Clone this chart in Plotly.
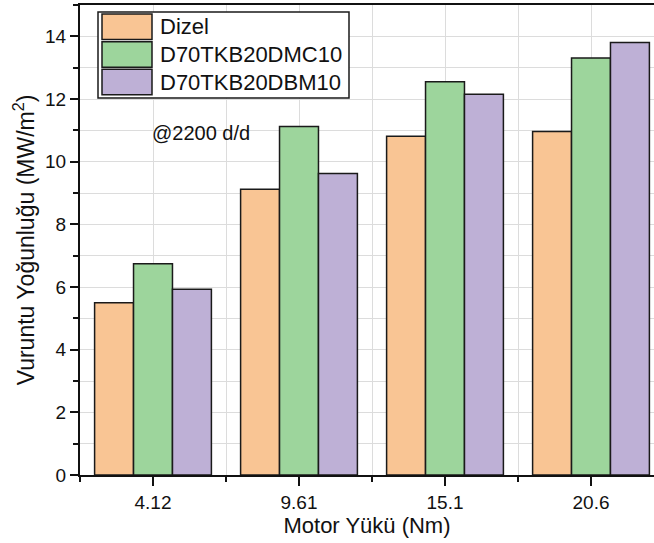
import plotly.graph_objects as go

# Engine load categories (Nm) and knock intensity per fuel (MW/m^2)
loads = ["4.12", "9.61", "15.1", "20.6"]
fuel_names = ["Dizel", "D70TKB20DMC10", "D70TKB20DBM10"]
dizel = [5.50, 9.12, 10.81, 10.96]
dmc10 = [6.74, 11.12, 12.55, 13.31]
dbm10 = [5.93, 9.62, 12.15, 13.80]

series = [dizel, dmc10, dbm10]
colors = ["#F9C594", "#9DD59C", "#BEB0D6"]
FONT = "Liberation Sans, Arial, sans-serif"

W, H = 654, 543
L, R, T, B = 80, 0, 5, 68
PW, PH = W - L - R, H - T - B

x_pos = list(range(len(loads)))

fig = go.Figure()
for name, vals, col in zip(fuel_names, series, colors):
    fig.add_trace(go.Bar(
        x=x_pos, y=vals, name=name, showlegend=False,
        marker=dict(color=col, line=dict(color="#1a1a1a", width=1.5)),
    ))


def px_x(px):
    return (px - L) / PW


def px_y(py):
    return (H - B - py) / PH


# Hand-built legend box with wide swatches
shapes = [dict(type="rect", xref="paper", yref="paper",
               x0=px_x(98), x1=px_x(349), y0=px_y(98), y1=px_y(12),
               fillcolor="white", line=dict(color="#1a1a1a", width=1.5))]
annotations = []
row_top = [14, 41.7, 69.3]
for i, (name, col) in enumerate(zip(fuel_names, colors)):
    top = row_top[i]
    shapes.append(dict(type="rect", xref="paper", yref="paper",
                       x0=px_x(102), x1=px_x(152), y0=px_y(top + 25.5), y1=px_y(top),
                       fillcolor=col, line=dict(color="#1a1a1a", width=1.5)))
    annotations.append(dict(xref="paper", yref="paper", x=px_x(158), y=px_y(top + 13),
                            xanchor="left", yanchor="middle", showarrow=False,
                            text=name, font=dict(family=FONT, size=22, color="#111")))

annotations.append(dict(xref="paper", yref="paper", x=px_x(201), y=px_y(133),
                        xanchor="center", yanchor="middle", showarrow=False,
                        text="@2200 d/d", font=dict(family=FONT, size=20, color="#111")))

fig.update_layout(
    width=W, height=H,
    margin=dict(l=L, r=R, t=T, b=B, pad=0),
    paper_bgcolor="white", plot_bgcolor="white",
    barmode="group", bargap=0.2, bargroupgap=0,
    font=dict(family=FONT, color="#111"),
    shapes=shapes, annotations=annotations,
    xaxis=dict(
        range=[-0.5, -0.5 + PW / 146.0],
        tickmode="array", tickvals=x_pos, ticktext=loads,
        ticks="outside", ticklen=9, tickwidth=1.5, tickcolor="#111",
        tickfont=dict(family=FONT, size=19, color="#111"),
        showline=True, linecolor="#111", linewidth=2, mirror=True,
        showgrid=True, gridcolor="#dcdcdc", gridwidth=1,
        minor=dict(tickmode="linear", tick0=-0.5, dtick=1, ticks="outside",
                   ticklen=5, tickwidth=1.5, tickcolor="#111",
                   showgrid=True, gridcolor="#dcdcdc", gridwidth=1),
        zeroline=False,
        title=dict(text="Motor Yükü (Nm)", standoff=0,
                   font=dict(family=FONT, size=22, color="#111")),
    ),
    yaxis=dict(
        range=[0, 15], dtick=2, tick0=0,
        ticks="outside", ticklen=8, tickwidth=1.5, tickcolor="#111",
        tickfont=dict(family=FONT, size=19, color="#111"),
        showline=True, linecolor="#111", linewidth=2, mirror=False,
        showgrid=True, gridcolor="#dcdcdc", gridwidth=1,
        minor=dict(dtick=1, ticks="outside", ticklen=5, tickwidth=1.5,
                   tickcolor="#111", showgrid=True, gridcolor="#dcdcdc", gridwidth=1),
        zeroline=False,
        title=dict(text="Vuruntu Yoğunluğu (MW/m<sup>2</sup>)", standoff=4,
                   font=dict(family=FONT, size=23, color="#111")),
    ),
)

fig.write_html("out.html")
